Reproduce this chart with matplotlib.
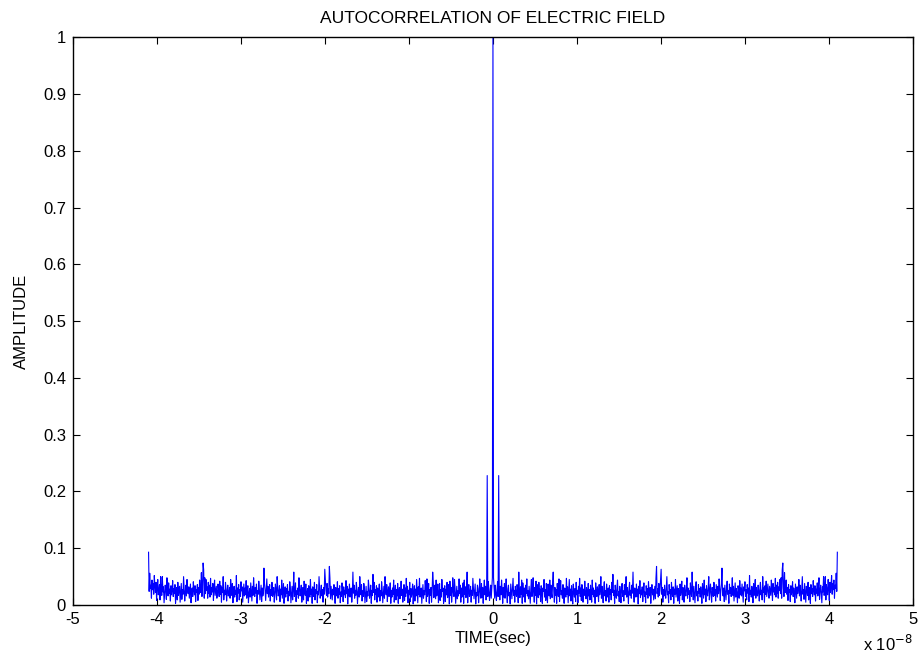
import numpy as np
import matplotlib
matplotlib.use('Agg')
import matplotlib.pyplot as plt
from matplotlib.ticker import FuncFormatter

plt.rcParams['font.family'] = ['Liberation Sans', 'DejaVu Sans']

# autocorrelation for positive lags 1..600 (in thousandths), lag 0 = 1.0
# the curve is symmetric about zero lag
max_lag = 4.1e-8  # sec
zero_lag = 1.0
pos_lags_milli = [
    48, 30, 12, 35, 20, 8, 26, 41, 15, 228, 22, 9, 33, 18, 44, 27, 3, 31, 14, 38,
    12, 25, 46, 19, 4, 29, 35, 16, 22, 2, 37, 24, 11, 30, 47, 17, 26, 5, 33, 21,
    15, 36, 28, 4, 58, 23, 13, 32, 19, 44, 3, 39, 24, 14, 30, 5, 35, 20, 46, 16,
    25, 11, 33, 18, 3, 29, 45, 15, 23, 48, 20, 5, 31, 17, 42, 2, 36, 22, 13, 40,
    18, 28, 6, 34, 21, 3, 30, 24, 45, 14, 27, 8, 38, 19, 4, 37, 25, 16, 44, 11,
    35, 20, 13, 41, 58, 24, 5, 31, 17, 27, 3, 38, 22, 15, 46, 6, 29, 43, 18, 25,
    12, 36, 21, 3, 30, 26, 14, 47, 19, 32, 4, 24, 45, 16, 28, 7, 34, 20, 2, 37,
    23, 14, 29, 6, 40, 18, 26, 4, 33, 21, 47, 15, 30, 8, 36, 24, 5, 28, 17, 42,
    20, 11, 31, 25, 3, 38, 16, 27, 9, 35, 22, 5, 44, 19, 30, 14, 26, 3, 39, 21,
    15, 32, 24, 6, 36, 18, 28, 50, 12, 33, 20, 4, 29, 41, 16, 25, 7, 37, 23, 14,
    30, 5, 34, 19, 27, 9, 40, 22, 54, 17, 26, 3, 35, 21, 12, 31, 44, 16, 24, 6,
    33, 20, 4, 29, 38, 15, 25, 7, 36, 18, 27, 50, 14, 31, 22, 3, 28, 40, 17, 26,
    12, 35, 21, 58, 19, 5, 30, 24, 14, 37, 16, 28, 2, 33, 20, 43, 13, 26, 18, 32,
    6, 27, 39, 15, 23, 4, 34, 19, 29, 12, 41, 21, 16, 31, 3, 25, 36, 18, 28, 9,
    22, 33, 11, 47, 68, 20, 29, 14, 38, 17, 26, 44, 63, 19, 31, 5, 27, 16, 35, 21,
    12, 30, 50, 18, 24, 4, 36, 20, 27, 9, 40, 23, 15, 32, 3, 28, 19, 45, 14, 25,
    34, 7, 29, 21, 3, 37, 17, 26, 42, 9, 31, 20, 5, 35, 24, 16, 28, 48, 12, 30,
    19, 25, 6, 39, 22, 15, 58, 27, 9, 33, 18, 4, 30, 41, 16, 24, 7, 36, 21, 29,
    14, 32, 20, 3, 38, 26, 12, 44, 18, 28, 6, 34, 23, 16, 30, 50, 9, 25, 37, 19,
    5, 31, 22, 15, 40, 17, 27, 7, 36, 24, 14, 33, 20, 46, 29, 8, 26, 38, 65, 21,
    16, 30, 6, 35, 23, 9, 28, 42, 19, 25, 3, 37, 21, 31, 15, 27, 48, 17, 33, 7,
    24, 39, 14, 29, 20, 4, 34, 26, 12, 43, 18, 30, 16, 37, 22, 5, 32, 25, 41, 15,
    27, 9, 36, 21, 30, 6, 52, 19, 26, 14, 33, 23, 4, 38, 17, 29, 45, 12, 31, 20,
    16, 35, 24, 7, 28, 40, 18, 26, 9, 50, 22, 30, 5, 34, 19, 42, 15, 27, 37, 21,
    12, 33, 25, 17, 44, 29, 8, 38, 23, 31, 18, 47, 14, 35, 20, 40, 12, 32, 26, 45,
    20, 48, 12, 62, 74, 30, 15, 57, 22, 25, 44, 19, 31, 8, 36, 22, 27, 6, 34, 18,
    26, 41, 15, 30, 21, 4, 37, 24, 12, 32, 20, 28, 45, 16, 35, 23, 7, 29, 50, 19,
    27, 10, 38, 22, 5, 33, 26, 17, 40, 9, 31, 24, 3, 36, 20, 29, 15, 43, 25, 18,
    34, 7, 28, 21, 39, 16, 30, 48, 10, 26, 35, 19, 4, 32, 23, 50, 17, 28, 50, 9,
    36, 25, 18, 45, 30, 8, 40, 22, 33, 52, 19, 38, 27, 44, 12, 35, 29, 56, 24, 93,
]

xticks = [-5, -4, -3, -2, -1, 0, 1, 2, 3, 4, 5]
yticks = [0, 0.1, 0.2, 0.3, 0.4, 0.5, 0.6, 0.7, 0.8, 0.9, 1]

pos = [v / 1000 for v in pos_lags_milli]
amp = np.array(pos[::-1] + [zero_lag] + pos)
n = len(pos)
t = np.linspace(-max_lag, max_lag, 2 * n + 1)

fig = plt.figure(figsize=(9.19, 6.58), dpi=100)
ax = fig.add_axes([0.0794, 0.0805, 0.914, 0.863])
ax.plot(t, amp, color='#0000ff', lw=0.8)

ax.set_xlim(-5e-8, 5e-8)
ax.set_ylim(0, 1)
ax.set_xticks([v * 1e-8 for v in xticks])
ax.xaxis.set_major_formatter(FuncFormatter(lambda v, p: '%g' % round(v / 1e-8, 6)))
ax.set_yticks(yticks)
ax.yaxis.set_major_formatter(FuncFormatter(lambda v, p: '%g' % v))
ax.tick_params(direction='in', top=True, right=True, length=5, width=0.8,
               labelsize=12, pad=5)
for s in ax.spines.values():
    s.set_linewidth(1.0)

ax.set_title('AUTOCORRELATION OF ELECTRIC FIELD', fontsize=12.5, pad=10)
ax.set_xlabel('TIME(sec)', fontsize=12, labelpad=3)
ax.set_ylabel('AMPLITUDE', fontsize=12, labelpad=10)
fig.text(0.993, 0.006, r'x 10$^{-8}$', ha='right', va='bottom', fontsize=12)

fig.savefig('out.png', dpi=100)
